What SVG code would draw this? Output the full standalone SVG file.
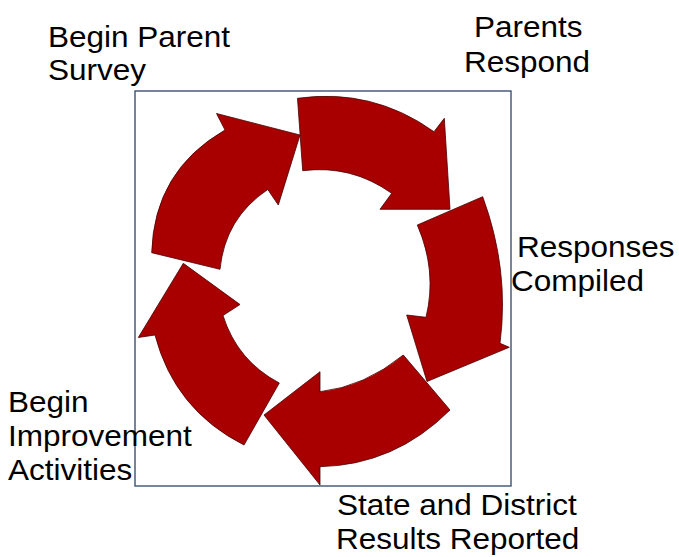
<svg xmlns="http://www.w3.org/2000/svg" width="679" height="557" viewBox="0 0 679 557">
  <style>
    .lbl { font-family: "Liberation Sans", Arial, sans-serif; font-size: 29px; fill: #000000; }
    .arrow { fill: #A80000; stroke: #4a0000; stroke-width: 0.8; stroke-linejoin: miter; }
    .frame { fill: #ffffff; stroke: #3a5274; stroke-width: 1.4; }
  </style>
  <rect width="679" height="557" fill="#ffffff"/>
  <rect id="frame" class="frame" x="135" y="91" width="376" height="395"/>
  <g id="connectors">
    <path id="arrow-1" class="arrow" d="M297.5,98.3 Q372.5,87.8 434,131.7 L444.3,118.3 L450,209.3 L380,209.3 L391.7,193.3 Q351.6,164.6 302.7,170.7 Z"/>
    <path id="arrow-2" class="arrow" d="M482.7,196.7 Q509.6,270 500,343.3 L509.3,347.3 L427,381.5 L406.7,315 L426,317.3 Q437.3,270.9 417.3,225 Z"/>
    <path id="arrow-3" class="arrow" d="M450,410 Q395,465 320,466.7 L320,485 L264,415 L320,371.7 L320,391.7 Q364.4,386.7 403.3,355 Z"/>
    <path id="arrow-4" class="arrow" d="M244,445 Q174.7,410 155,335 L138.3,337.5 L183.3,263.3 L240,304.5 L223,315.5 Q237.3,360.8 279.3,383 Z"/>
    <path id="arrow-5" class="arrow" d="M151.7,252.7 Q154,170.9 225,130 L216.5,113.5 L300,135 L278.3,205 L267.8,189.5 Q225.1,218 220,269.3 Z"/>
  </g>
  <g id="node-begin-parent-survey">
    <text class="lbl" transform="translate(48,47) scale(1.087,1)">Begin Parent</text>
    <text class="lbl" transform="translate(48,80) scale(1.087,1)">Survey</text>
  </g>
  <g id="node-parents-respond">
    <text class="lbl" transform="translate(474,37) scale(1.087,1)">Parents</text>
    <text class="lbl" transform="translate(464,71.5) scale(1.087,1)">Respond</text>
  </g>
  <g id="node-responses-compiled">
    <text class="lbl" transform="translate(517,257) scale(1.087,1)">Responses</text>
    <text class="lbl" transform="translate(511,291) scale(1.087,1)">Compiled</text>
  </g>
  <g id="node-state-district-results">
    <text class="lbl" transform="translate(337,515) scale(1.087,1)">State and District</text>
    <text class="lbl" transform="translate(336,548.5) scale(1.087,1)">Results Reported</text>
  </g>
  <g id="node-begin-improvement">
    <text class="lbl" transform="translate(8,412) scale(1.087,1)">Begin</text>
    <text class="lbl" transform="translate(8,446) scale(1.087,1)">Improvement</text>
    <text class="lbl" transform="translate(8,479.5) scale(1.087,1)">Activities</text>
  </g>
</svg>
